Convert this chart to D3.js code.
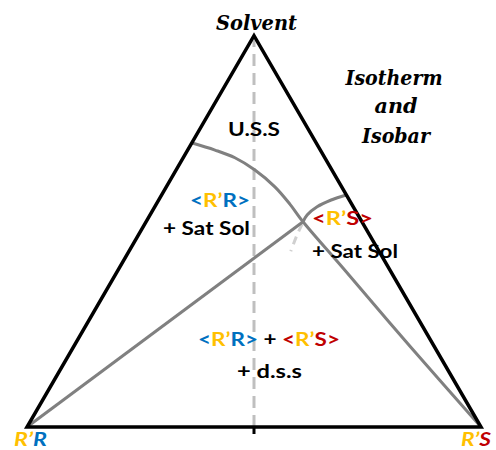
<!DOCTYPE html>
<html>
<head>
<meta charset="utf-8">
<script src="https://cdn.jsdelivr.net/npm/d3@7.9.0/dist/d3.min.js"></script>
<style>
  body { margin: 0; background: #fff; }
  svg { display: block; }
  .serif { font-family: "DejaVu Serif", serif; font-weight: bold; font-style: italic; }
  .sans { font-family: Lato, "Open Sans", sans-serif; font-weight: bold; }
</style>
</head>
<body>
<svg id="chart" width="496" height="450"></svg>
<script>
// Triangle corners in normalised coordinates (left = R'R, right = R'S, top = Solvent)
const corners = [[0, 0], [1, 0], [0.5, 0.862]];

// Solubility curve of <R'R> (from left edge, through the eutectic point, down to R'S)
const curveRR = [[0.362, 0.626], [0.414, 0.610], [0.458, 0.593], [0.502, 0.566],
                 [0.546, 0.529], [0.579, 0.491], [0.608, 0.452], [0.696, 0.350],
                 [0.845, 0.176], [1, 0]];
// Solubility curve of <R'S> (from right edge to the eutectic point)
const curveRS = [[0.703, 0.511], [0.670, 0.500], [0.639, 0.485], [0.617, 0.467], [0.608, 0.452]];
// Metastable continuation (dashed)
const curveRSmeta = [[0.606, 0.447], [0.594, 0.421], [0.581, 0.387]];
// Tie line from R'R to the eutectic point
const tieLine = [[0, 0], [0.608, 0.452]];
// Symmetry axis
const axisLine = [[0.5, 0.0], [0.5, 0.852]];

// Label texts, split into coloured pieces
const blue = "#0070c0", gold = "#ffc000", red = "#c00000";
const lblRR  = [["<", blue], ["R\u2019", gold], ["R", blue], [">", blue]];
const lblRS  = [["<", red], ["R\u2019", gold], ["S", red], [">", red]];
const lblMix = [["<", blue], ["R\u2019", gold], ["R", blue], ["> ", blue], ["+ ", "#000"],
                ["<", red], ["R\u2019", gold], ["S", red], [">", red]];
const cornerL = [["R\u2019", gold], ["R", blue]];
const cornerR = [["R\u2019", gold], ["S", red]];

const svg = d3.select("#chart");
const x = d3.scaleLinear().domain([0, 1]).range([27, 481]);
const y = d3.scaleLinear().domain([0, 1]).range([427, -27]);
const line = d3.line().x(d => x(d[0])).y(d => y(d[1]));

// symmetry axis (dashed)
svg.append("path").attr("d", line(axisLine))
  .attr("stroke", "#bfbfbf").attr("stroke-width", 3).attr("fill", "none")
  .attr("stroke-dasharray", "12,7");

// curves
svg.append("path").attr("d", line.curve(d3.curveCatmullRom)(curveRR))
  .attr("stroke", "#808080").attr("stroke-width", 3).attr("fill", "none");
svg.append("path").attr("d", line.curve(d3.curveCatmullRom)(curveRS))
  .attr("stroke", "#808080").attr("stroke-width", 3).attr("fill", "none");
svg.append("path").attr("d", line.curve(d3.curveCatmullRom)(curveRSmeta))
  .attr("stroke", "#d0d0d0").attr("stroke-width", 3).attr("fill", "none")
  .attr("stroke-dasharray", "8,6");
svg.append("path").attr("d", line.curve(d3.curveLinear)(tieLine))
  .attr("stroke", "#808080").attr("stroke-width", 3).attr("fill", "none");

// triangle
svg.append("path").attr("d", line.curve(d3.curveLinearClosed)(corners))
  .attr("stroke", "#000").attr("stroke-width", 3.5).attr("fill", "none")
  .attr("stroke-linejoin", "miter");

// small tick at the middle of the base
svg.append("line").attr("x1", x(0.5)).attr("x2", x(0.5)).attr("y1", y(0)).attr("y2", y(0) + 7)
  .attr("stroke", "#000").attr("stroke-width", 3);

// text centred at cx, stretched horizontally to width w (Calibri is wider than Lato)
function label(parts, cx, by, cls, size, w) {
  if (typeof parts === "string") parts = [[parts, "#000"]];
  const g = svg.append("g");
  const t = g.append("text").attr("class", cls).attr("font-size", size)
    .attr("text-anchor", "middle");
  parts.forEach(([s, c]) => t.append("tspan").text(s).attr("fill", c));
  const sx = w ? w / t.node().getComputedTextLength() : 1;
  g.attr("transform", `translate(${cx},${by}) scale(${sx},1)`);
  return t;
}

label("Solvent", 256.5, 30, "serif", 19.5, 81);
label("Isotherm", 394, 85, "serif", 19.5, 97);
label("and", 396, 113, "serif", 19.5, 43);
label("Isobar", 396, 143, "serif", 19.5, 68);

label("U.S.S", 254, 136, "sans", 19.5, 52);
label(lblRR, 220, 207, "sans", 19.5, 60);
label("+ Sat Sol", 206.5, 235, "sans", 19.5, 87);
label(lblRS, 342.5, 225, "sans", 19.5, 61);
label("+ Sat Sol", 355, 258, "sans", 19.5, 86);
label(lblMix, 269, 346, "sans", 19.5, 142);
label("+ d.s.s", 269.5, 378, "sans", 19.5, 65);

label(cornerL, 30.5, 446, "sans", 19.5, 35).attr("font-style", "italic");
label(cornerR, 476, 446, "sans", 19.5, 32).attr("font-style", "italic");
</script>
</body>
</html>
